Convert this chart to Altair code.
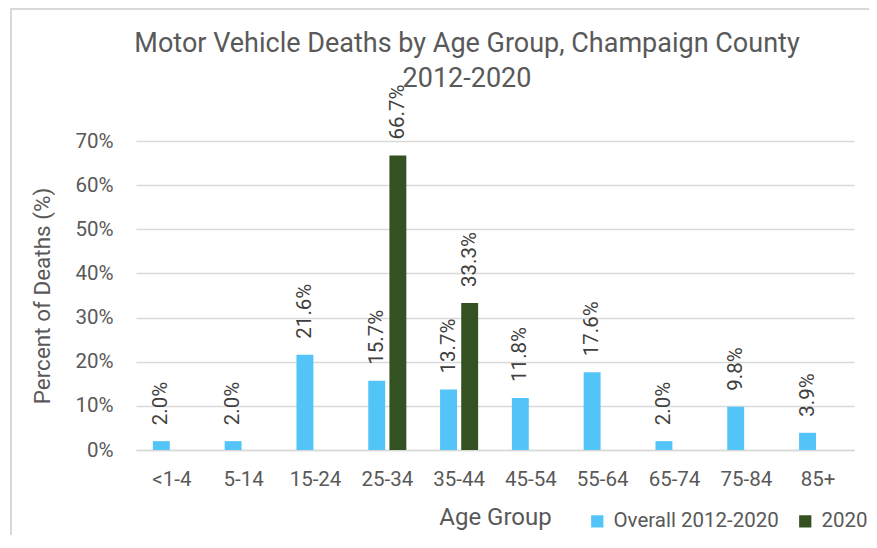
import altair as alt
import pandas as pd

age_groups = ["<1-4", "5-14", "15-24", "25-34", "35-44", "45-54", "55-64", "65-74", "75-84", "85+"]
overall = [2.0, 2.0, 21.6, 15.7, 13.7, 11.8, 17.6, 2.0, 9.8, 3.9]
groups_2020 = ["25-34", "35-44"]
values_2020 = [66.7, 33.3]
series = ["Overall 2012-2020", "2020"]
colors = ["#52C4F7", "#345221"]
title_text = "Motor Vehicle Deaths by Age Group, Champaign County\n2012-2020"

rows = [{"age": a, "series": series[0], "value": v / 100} for a, v in zip(age_groups, overall)]
rows += [{"age": a, "series": series[1], "value": v / 100} for a, v in zip(groups_2020, values_2020)]
df = pd.DataFrame(rows)

FONT = "Roboto"
GREY = "#595959"

x = alt.X("age:N", sort=age_groups,
          scale=alt.Scale(domain=age_groups, paddingInner=0.47, paddingOuter=0.235),
          axis=alt.Axis(title="Age Group", labelAngle=0, ticks=False, domainColor="#d9d9d9",
                        domainWidth=1.5,
                        labelFontSize=20.5, labelColor=GREY, labelPadding=19,
                        titleFontSize=24, titleColor=GREY, titleFontWeight="normal",
                        titlePadding=16, labelFont=FONT, titleFont=FONT))
xo = alt.XOffset("series:N", sort=series,
                 scale=alt.Scale(domain=series, paddingInner=0.2, paddingOuter=0))

base = alt.Chart(df)

bars = base.mark_bar().encode(
    x=x,
    xOffset=xo,
    y=alt.Y("value:Q", scale=alt.Scale(domain=[0, 0.7], nice=False),
            axis=alt.Axis(format="0%", values=[0, 0.1, 0.2, 0.3, 0.4, 0.5, 0.6, 0.7],
                          title="Percent of Deaths (%)", ticks=False, domain=False,
                          gridColor="#d9d9d9", gridWidth=1.5,
                          labelFontSize=20.5, labelColor=GREY, labelPadding=23,
                          titleFontSize=22.5, titleColor=GREY, titleFontWeight="normal",
                          titlePadding=20, labelFont=FONT, titleFont=FONT)),
    color=alt.Color("series:N", sort=series,
                    scale=alt.Scale(domain=series, range=colors),
                    legend=alt.Legend(title=None, orient="none", direction="horizontal",
                                      legendX=451, legendY=370, symbolType="square",
                                      symbolSize=150, symbolStrokeWidth=0,
                                      labelFontSize=20.5, labelColor=GREY, labelFont=FONT,
                                      labelLimit=400, columnPadding=16, symbolOpacity=1,
                                      labelOffset=6)),
)

labels = base.mark_text(angle=270, align="left", baseline="middle", dx=16,
                        fontSize=20.5, color="#404040", font=FONT).encode(
    x=x,
    xOffset=xo,
    y="value:Q",
    text=alt.Text("value:Q", format=".1%"),
)

title_mark = alt.Chart(alt.Data(values=[{"t": title_text}])).mark_text(
    lineBreak="\n", fontSize=27, color=GREY, font=FONT, align="center",
    baseline="middle", lineHeight=35).encode(
    x=alt.value(331), y=alt.value(-97), text="t:N")

frame_left = alt.Chart(alt.Data(values=[{}])).mark_rule(color="#d9d9d9", strokeWidth=2).encode(
    x=alt.value(-125), y=alt.value(-132), y2=alt.value(395))
frame_top = alt.Chart(alt.Data(values=[{}])).mark_rule(color="#d9d9d9", strokeWidth=2).encode(
    x=alt.value(-126), x2=alt.value(733), y=alt.value(-132))

chart = alt.layer(frame_left, frame_top, bars, labels, title_mark).properties(
    width=718, height=309,
    autosize=alt.AutoSizeParams(type="none"),
    padding={"left": 128, "top": 133, "right": 15, "bottom": 85},
).configure_view(stroke=None)

chart.save("out.html", embed_options={"renderer": "svg", "actions": False})
